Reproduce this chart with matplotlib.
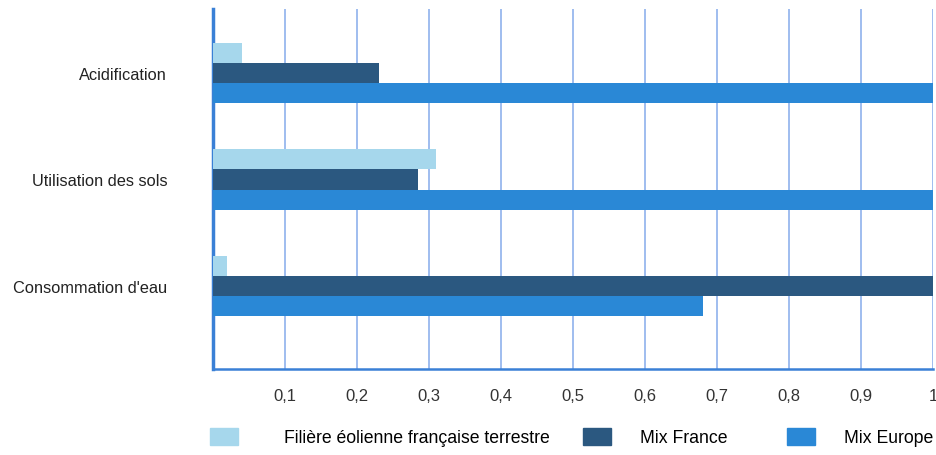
import matplotlib.pyplot as plt
import numpy as np
from matplotlib.patches import Patch

plt.rcParams['font.family'] = ['Liberation Sans', 'DejaVu Sans']

# impact categories, top to bottom
categories = ["Acidification", "Utilisation des sols", "Consommation d'eau"]
series_names = ["Filière éolienne française terrestre", "Mix France", "Mix Europe"]

# normalised impacts (1 = worst of the three)
eolien = [0.04, 0.31, 0.02]
mix_france = [0.23, 0.285, 1.0]
mix_europe = [1.0, 1.0, 0.68]

xticks = [0.1, 0.2, 0.3, 0.4, 0.5, 0.6, 0.7, 0.8, 0.9, 1.0]
xtick_labels = ["0,1", "0,2", "0,3", "0,4", "0,5", "0,6", "0,7", "0,8", "0,9", "1"]

colors = ["#a6d7ec", "#2b5880", "#2a88d6"]
grid_col = "#8fb2ec"
spine_col = "#3a80d6"

fig = plt.figure(figsize=(9.36, 4.56), dpi=100)
ax = fig.add_axes([213 / 936, 1 - 370 / 456, 720 / 936, 360 / 456])

y = np.arange(len(categories))
h = 0.19
for vals, col, off in zip([eolien, mix_france, mix_europe], colors, [-h, 0, h]):
    ax.barh(y + off, vals, height=h, color=col, zorder=3)

ax.set_xlim(0, 1.0)
ax.set_ylim(2.78, -0.6)
ax.set_xticks(xticks)
ax.set_xticklabels(xtick_labels, fontsize=12, color="#333333")
ax.set_yticks(y)
ax.set_yticklabels(categories, fontsize=11.8, color="#222222")
ax.tick_params(axis="x", length=0, pad=14)
ax.tick_params(axis="y", length=0, pad=33)

ax.grid(axis="x", color=grid_col, linewidth=1.2, zorder=0)
for s in ["top", "right"]:
    ax.spines[s].set_visible(False)
ax.spines["left"].set_color(spine_col)
ax.spines["left"].set_linewidth(2.5)
ax.spines["bottom"].set_color(spine_col)
ax.spines["bottom"].set_linewidth(1.8)

# one legend entry per box, placed along the bottom
legend_x = [210, 583, 787]
text_pad = [2.6, 1.65, 1.65]
for name, col, lx, tp in zip(series_names, colors, legend_x, text_pad):
    fig.legend([Patch(facecolor=col, edgecolor=col)], [name], loc="center left",
               bbox_to_anchor=(lx / 936, 1 - 438 / 456), frameon=False,
               fontsize=12.7, handlelength=1.6, handleheight=1.15,
               handletextpad=tp, borderaxespad=0, borderpad=0)

fig.savefig("out.png", dpi=100)
